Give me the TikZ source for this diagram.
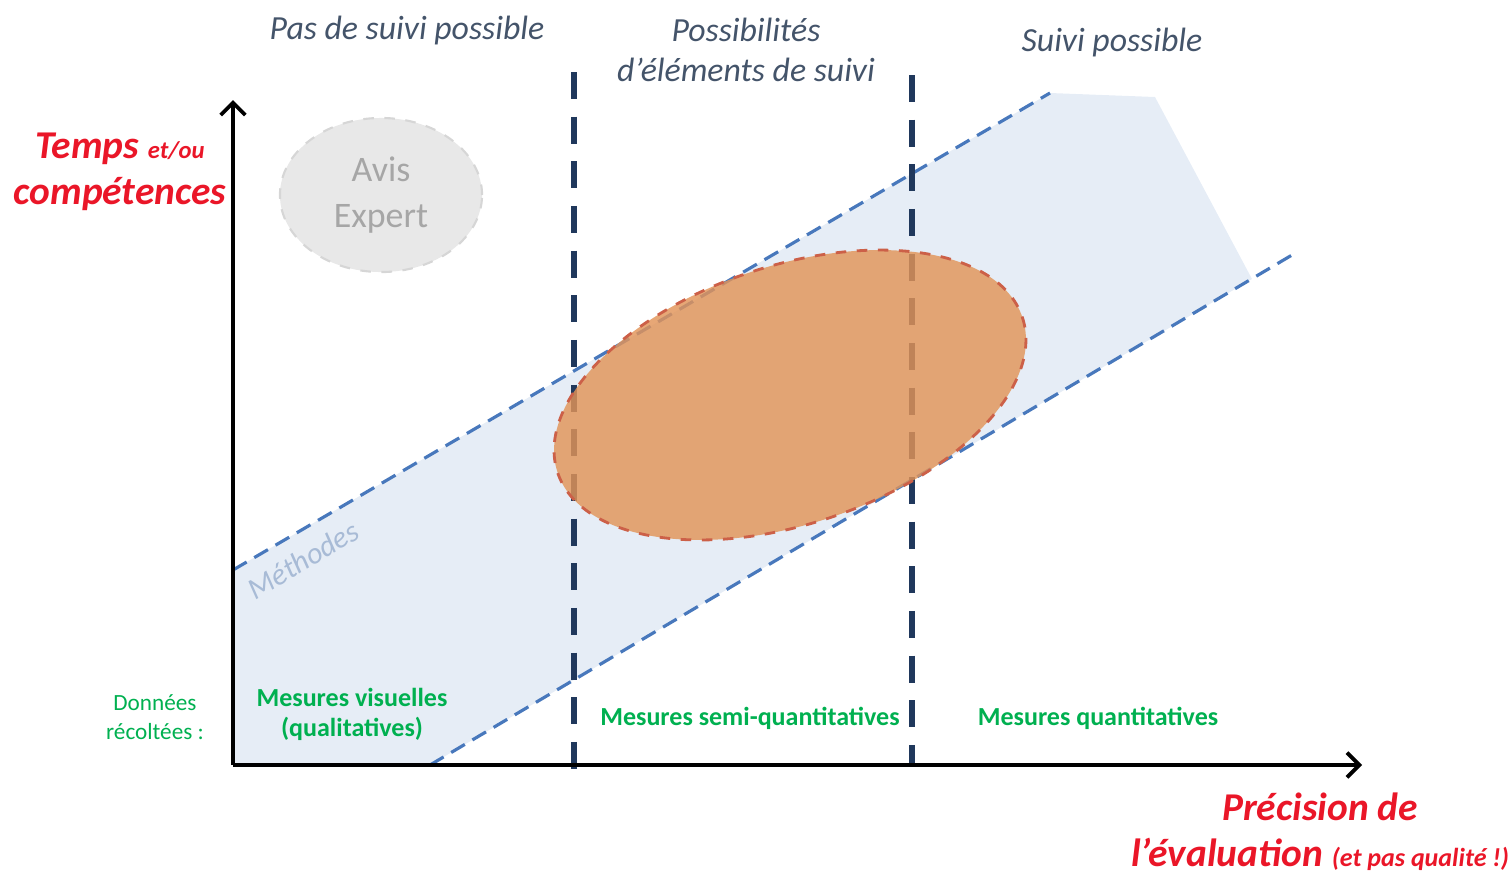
\documentclass[tikz,border=0pt]{standalone}
\usepackage{fontspec}
\setmainfont{Carlito}
\usepackage{xcolor}
\usepackage{tikz}
\usetikzlibrary{positioning}
\usetikzlibrary{arrows.meta}
\usetikzlibrary{shapes.geometric}

\definecolor{bandfill}{RGB}{230,237,246}
\definecolor{bandline}{RGB}{72,120,188}
\definecolor{zoneline}{RGB}{32,56,92}
\definecolor{headtext}{RGB}{68,84,106}
\definecolor{axistext}{RGB}{234,22,40}
\definecolor{datatext}{RGB}{0,176,80}
\definecolor{ovalfill}{RGB}{226,148,88}
\definecolor{ovalline}{RGB}{204,96,72}
\definecolor{expertfill}{RGB}{232,232,232}
\definecolor{expertline}{RGB}{214,214,214}
\definecolor{experttext}{RGB}{166,166,166}
\definecolor{methodtext}{RGB}{168,187,214}

\tikzset{
  zone/.style={zoneline, line width=1.5pt, dash pattern=on 7.7pt off 5pt},
  bandedge/.style={bandline, line width=0.9pt, dash pattern=on 4.5pt off 2.5pt},
  axisline/.style={line width=1.1pt, -{Straight Barb[length=3.5pt, width=7pt]}},
  head/.style={headtext, font=\fontsize{9.6}{11.4}\selectfont\itshape, align=center},
  axislabel/.style={axistext, font=\fontsize{11.2}{13}\selectfont\bfseries\itshape, align=center},
  data/.style={datatext, font=\fontsize{7.4}{8.5}\selectfont\bfseries, align=center},
  expertbox/.style={ellipse, fill=expertfill, draw=expertline, dashed, line width=0.6pt,
    minimum width=2.02cm, minimum height=1.54cm, inner sep=0pt, text=experttext,
    font=\fontsize{10.2}{13}\selectfont, align=center},
}

\begin{document}
\begin{tikzpicture}[x=0.01cm, y=-0.01cm]
\useasboundingbox (0,0) rectangle (1512,875);

% band of methods
\coordinate (bandTL) at (233,570);
\coordinate (bandTR) at (1050,93);
\coordinate (bandCorner) at (1155,97);
\coordinate (bandBR) at (1252,279);
\coordinate (bandBL) at (430,765);
\coordinate (bandEnd) at (1292,255);
\fill[bandfill] (bandTL) -- (bandTR) -- (bandCorner) -- (bandBR) -- (bandBL) -- (233,765) -- cycle;
\draw[bandedge] (bandTL) -- (bandTR);
\draw[bandedge] (bandBL) -- (bandEnd);
\node[methodtext, rotate=31, font=\fontsize{8.6}{10}\selectfont\itshape] (methodes) at (303,560) {Méthodes};

% zones
\coordinate (zoneAtop) at (574,72);
\coordinate (zoneAbot) at (574,778);
\coordinate (zoneBtop) at (912,75);
\coordinate (zoneBbot) at (912,765);
\draw[zone] (zoneAtop) -- (zoneAbot);
\draw[zone] (zoneBtop) -- (zoneBbot);

% orange zone
\draw[ovalline, line width=0.8pt, dashed, fill=ovalfill, fill opacity=0.82]
  (790,395) ellipse [x radius=245, y radius=129, rotate=18.5];

% Draw axes
\coordinate (origin) at (233,765);
\coordinate (ytop) at (233,100);
\coordinate (xend) at (1362,765);
\draw[axisline] (origin) -- (ytop);
\draw[axisline] (origin) -- (xend);

% texts
\node[head] (nosuivi) at (407,30) {Pas de suivi possible};
\node[head] (partiel) at (746,50) {Possibilités\\d’éléments de suivi};
\node[head] (suivi) at (1112,42) {Suivi possible};
\node[expertbox] (avis) at (381,195) {Avis\\Expert};
\node[axislabel] (temps) at (120,172) {Temps {\fontsize{7}{8}\selectfont et/ou}\\compétences};
\node[axislabel] (precision) at (1320,832) {Précision de\\l’évaluation {\fontsize{7.4}{8}\selectfont (et pas qualité !)}};
\node[data, font=\fontsize{6.6}{8.2}\selectfont] (donnees) at (155,717) {Données\\récoltées :};
\node[data] (visuelles) at (352,714) {Mesures visuelles\\(qualitatives)};
\node[data] (semi) at (750,718) {Mesures semi-quantitatives};
\node[data] (quanti) at (1098,718) {Mesures quantitatives};
\end{tikzpicture}
\end{document}
